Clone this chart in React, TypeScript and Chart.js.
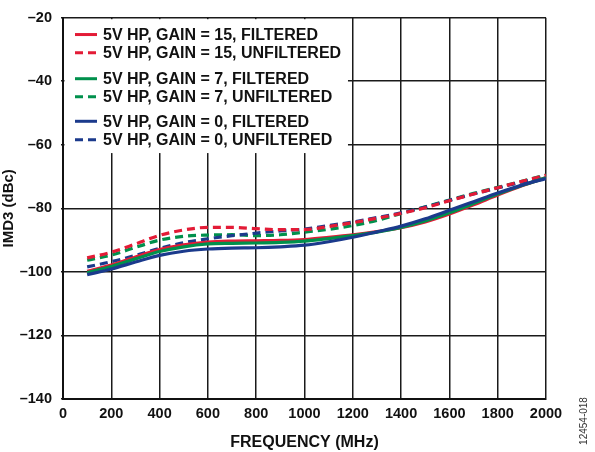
import React, { useEffect, useRef } from "react";
import { Chart, registerables } from "chart.js";

Chart.register(...registerables);

const freqMHz = [100, 200, 300, 400, 500, 600, 700, 800, 900, 1000, 1100, 1200, 1300, 1400, 1500, 1600, 1700, 1800, 1900, 2000];

const gain15Filtered = [-99.8, -97.8, -95.3, -93.0, -91.5, -90.6, -90.3, -90.2, -90.1, -89.8, -89.1, -88.3, -87.3, -86.1, -84.3, -81.8, -78.9, -75.8, -72.9, -70.3];
const gain7Filtered = [-100.2, -98.3, -95.9, -93.6, -92.1, -91.2, -91.0, -90.9, -90.7, -90.3, -89.5, -88.6, -87.5, -86.0, -84.0, -81.4, -78.5, -75.5, -72.8, -70.4];
const gain0Filtered = [-100.9, -99.1, -96.9, -94.8, -93.5, -92.8, -92.5, -92.4, -92.1, -91.6, -90.5, -89.1, -87.4, -85.6, -83.3, -80.6, -77.9, -75.2, -72.7, -70.6];
const gain15Unfiltered = [-95.6, -93.8, -91.2, -88.5, -86.8, -86.0, -86.0, -86.4, -86.7, -86.7, -85.7, -84.5, -83.1, -81.6, -79.8, -77.6, -75.5, -73.5, -71.5, -69.6];
const gain7Unfiltered = [-96.3, -94.7, -92.3, -90.0, -88.8, -88.4, -88.3, -88.6, -88.3, -87.5, -86.6, -85.4, -83.8, -81.6, -79.5, -77.4, -75.3, -73.4, -71.5, -69.5];
const gain0Unfiltered = [-98.4, -96.8, -94.8, -92.6, -90.8, -89.6, -88.6, -87.8, -87.1, -86.5, -85.4, -84.3, -82.9, -81.4, -79.6, -77.5, -75.5, -73.6, -71.7, -70.0];

const seriesLabels = [
  "5V HP, GAIN = 15, FILTERED",
  "5V HP, GAIN = 15, UNFILTERED",
  "5V HP, GAIN = 7, FILTERED",
  "5V HP, GAIN = 7, UNFILTERED",
  "5V HP, GAIN = 0, FILTERED",
  "5V HP, GAIN = 0, UNFILTERED",
];

const RED = "#E31B36";
const GREEN = "#00904C";
const BLUE = "#1B3A8C";
const FONT = "'Liberation Sans', Arial, sans-serif";

const toPts = (ys: number[]) => freqMHz.map((x, i) => ({ x, y: ys[i] }));

const legendPlugin = {
  id: "boxLegend",
  beforeDatasetsDraw(chart: any) {
    const { ctx, chartArea, scales } = chart;
    const xs = scales.x;
    const ys = scales.y;
    const right = xs.getPixelForValue(1180);
    const bottom = ys.getPixelForValue(-62.6);
    ctx.save();
    ctx.fillStyle = "#ffffff";
    ctx.fillRect(chartArea.left + 1.5, chartArea.top + 1.5, right - chartArea.left - 1.5, bottom - chartArea.top - 1.5);
    const rows = [
      { c: RED, d: false, y: ys.getPixelForValue(-25.3) },
      { c: RED, d: true, y: ys.getPixelForValue(-31.0) },
      { c: GREEN, d: false, y: ys.getPixelForValue(-39.2) },
      { c: GREEN, d: true, y: ys.getPixelForValue(-44.9) },
      { c: BLUE, d: false, y: ys.getPixelForValue(-52.6) },
      { c: BLUE, d: true, y: ys.getPixelForValue(-58.4) },
    ];
    const lx0 = chartArea.left + 12;
    const lx1 = chartArea.left + 34;
    rows.forEach((r, i) => {
      ctx.beginPath();
      ctx.strokeStyle = r.c;
      ctx.lineWidth = 3;
      ctx.setLineDash(r.d ? [8, 5] : []);
      ctx.moveTo(lx0, r.y);
      ctx.lineTo(lx1, r.y);
      ctx.stroke();
      ctx.setLineDash([]);
      ctx.fillStyle = "#111";
      ctx.font = `bold 16px ${FONT}`;
      ctx.textAlign = "left";
      ctx.textBaseline = "middle";
      ctx.fillText(seriesLabels[i], chartArea.left + 40, r.y + 1);
    });
    ctx.restore();
  },
  afterDraw(chart: any) {
    const { ctx } = chart;
    ctx.save();
    ctx.translate(584, 421);
    ctx.rotate(-Math.PI / 2);
    ctx.fillStyle = "#333";
    ctx.font = `10px ${FONT}`;
    ctx.textAlign = "center";
    ctx.textBaseline = "middle";
    ctx.fillText("12454-018", 0, 0);
    ctx.restore();
  },
};

export default function App() {
  const ref = useRef<HTMLCanvasElement | null>(null);
  useEffect(() => {
    if (!ref.current) return;
    const mk = (ys: number[], label: string, color: string, dashed: boolean) => ({
      label,
      data: toPts(ys),
      borderColor: color,
      backgroundColor: color,
      borderWidth: 3.2,
      borderDash: dashed ? [8, 5] : [],
      pointRadius: 0,
      cubicInterpolationMode: "monotone" as const,
      fill: false,
    });
    const chart = new Chart(ref.current, {
      type: "line",
      data: {
        datasets: [
          mk(gain0Filtered, seriesLabels[4], BLUE, false),
          mk(gain7Filtered, seriesLabels[2], GREEN, false),
          mk(gain15Filtered, seriesLabels[0], RED, false),
          mk(gain15Unfiltered, seriesLabels[1], RED, true),
          mk(gain0Unfiltered, seriesLabels[5], BLUE, true),
          mk(gain7Unfiltered, seriesLabels[3], GREEN, true),
        ],
      },
      options: {
        responsive: false,
        animation: false,
        layout: { padding: { top: 15, right: 49, left: 0, bottom: 0 } },
        plugins: { legend: { display: false }, tooltip: { enabled: false } },
        scales: {
          x: {
            type: "linear",
            min: 0,
            max: 2000,
            ticks: {
              stepSize: 200,
              color: "#111",
              font: { family: FONT, size: 14.5, weight: "bold" },
              padding: 6,
              maxRotation: 0,
              callback: (v: any) => String(v),
            },
            grid: { color: "#1a1a1a", lineWidth: 1.5, drawTicks: false },
            border: { color: "#111", width: 2 },
            title: {
              display: true,
              text: "FREQUENCY (MHz)",
              color: "#111",
              font: { family: FONT, size: 16, weight: "bold" },
              padding: { top: 5, bottom: 0 },
            },
            afterFit: (s: any) => { s.height = 53; },
          },
          y: {
            type: "linear",
            min: -140,
            max: -20,
            ticks: {
              stepSize: 20,
              color: "#111",
              font: { family: FONT, size: 14.5, weight: "bold" },
              padding: 9,
              callback: (v: any) => (Number(v) < 0 ? "\u2013" + Math.abs(Number(v)) : String(v)),
            },
            grid: { color: "#1a1a1a", lineWidth: 1.5, drawTicks: true, tickLength: 2 },
            border: { color: "#111", width: 2 },
            title: {
              display: true,
              text: "IMD3 (dBc)",
              color: "#111",
              font: { family: FONT, size: 15, weight: "bold" },
              padding: { top: 0, bottom: 3 },
            },
            afterFit: (s: any) => { s.width = 63; },
          },
        },
      },
      plugins: [legendPlugin],
    });
    return () => chart.destroy();
  }, []);
  return (
    <div style={{ position: "fixed", left: 0, top: 0, width: 595, height: 452, background: "#fff" }}>
      <canvas ref={ref} width={595} height={452} style={{ display: "block" }} />
    </div>
  );
}
